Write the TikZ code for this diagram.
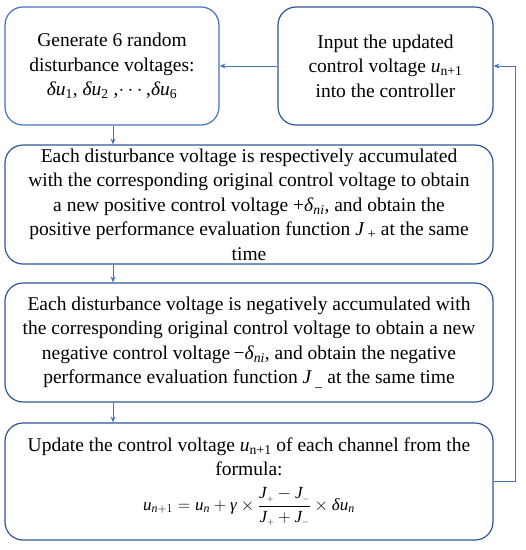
\documentclass[tikz,border=0pt]{standalone}
\usepackage{amsmath}
\usepackage{fontspec}
\setmainfont{Liberation Serif}
\usetikzlibrary{arrows.meta}
\newcommand\mi[1]{\textit{#1}}
\definecolor{lblue}{HTML}{4472C4}
\definecolor{dblue}{HTML}{2F5597}
\begin{document}
\begin{tikzpicture}[x=1pt,y=-1pt,
  boxa/.style={draw=lblue,line width=1.2pt,rounded corners=18pt,align=center,
    inner sep=0pt,font=\fontsize{19.5}{24.5}\selectfont},
  boxb/.style={boxa,draw=dblue},
  arr/.style={draw=lblue,line width=0.9pt,-{Stealth[length=6pt,width=5pt]}}]
\useasboundingbox (0,0) rectangle (526,550);
\node[boxa,minimum width=214pt,minimum height=118pt] (b1) at (112,66)
  {Generate 6 random\\disturbance voltages:\\
   \mi{δu}\textsubscript{1}, \mi{δu}\textsubscript{2} ,$\cdots$,\mi{δu}\textsubscript{6}};
\node[boxb,minimum width=215pt,minimum height=118pt] (b2) at (385.5,66)
  {Input the updated\\control voltage \mi{u}\textsubscript{n+1}\\into the controller};
\node[boxb,minimum width=488pt,minimum height=119pt] (b3) at (249,204.5)
  {Each disturbance voltage is respectively accumulated\\
   with the corresponding original control voltage to obtain\\
   a new positive control voltage +\mi{δ}\textsubscript{\mi{ni}}, and obtain the\\
   positive performance evaluation function \mi{J}\,\textsubscript{+} at the same\\
   time};
\node[boxb,minimum width=488pt,minimum height=119pt] (b4) at (249,342.5)
  {Each disturbance voltage is negatively accumulated with\\
   the corresponding original control voltage to obtain a new\\
   negative control voltage\,−\mi{δ}\textsubscript{\mi{ni}}, and obtain the negative\\
   performance evaluation function \mi{J}\,\textsubscript{\_} at the same time};
\node[boxb,minimum width=488pt,minimum height=117pt] (b5) at (249,481.5)
  {Update the control voltage \mi{u}\textsubscript{n+1} of each channel from the\\
   formula:\\[10pt]
   {\fontsize{17}{20}\selectfont$\mi{u}_{\mi{n}+1} = \mi{u}_{\mi{n}} + \mi{γ} \times
   \dfrac{\mi{J}_{\scriptscriptstyle +} - \mi{J}_{\scriptscriptstyle -}}{\mi{J}_{\scriptscriptstyle +} + \mi{J}_{\scriptscriptstyle -}}
   \times \mi{δu}_{\mi{n}}$}};
\coordinate (fb) at (515,0);
\draw[arr] (b2.west) -- (b1.east);
\draw[arr] (b1.south -| 113,0) -- (b3.north -| 113,0);
\draw[arr] (b3.south -| 113,0) -- (b4.north -| 113,0);
\draw[arr] (b4.south -| 113,0) -- (b5.north -| 113,0);
\draw[arr] (b5.east) -- (b5.east -| fb) -- (b2.east -| fb) -- (b2.east);
\end{tikzpicture}
\end{document}
